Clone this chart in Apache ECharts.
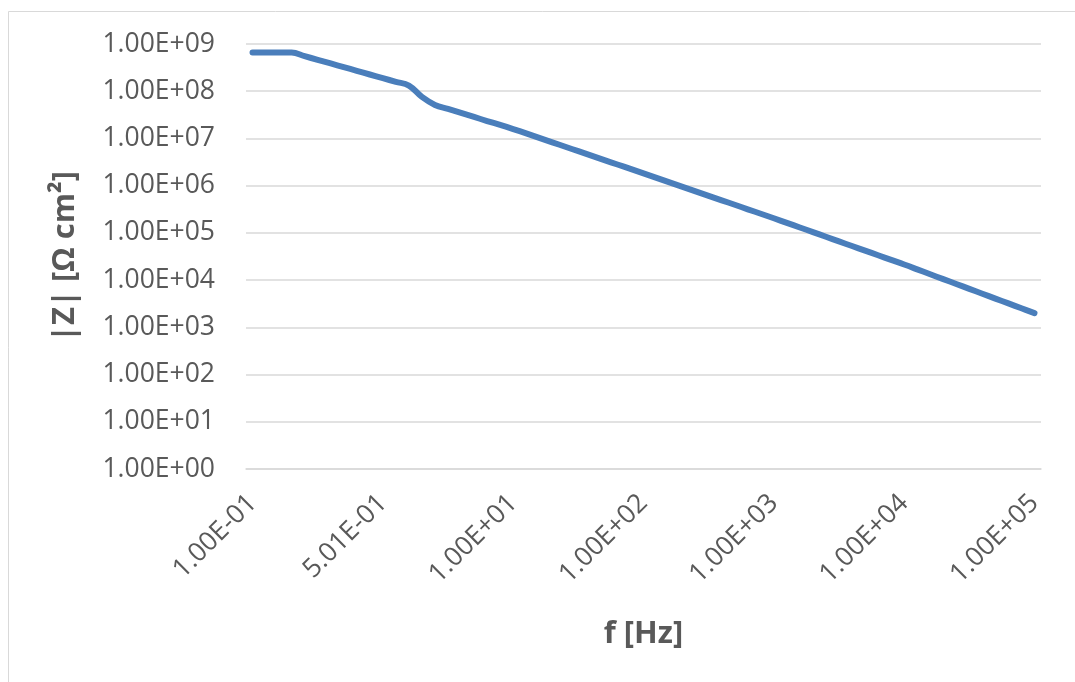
<!DOCTYPE html>
<html>
<head>
<meta charset="utf-8">
<script src="https://cdn.jsdelivr.net/npm/echarts@6/dist/echarts.min.js"></script>
<style>
html,body{margin:0;padding:0;background:#fff;}
#chart{width:1075px;height:682px;}
</style>
</head>
<body>
<div id="chart"></div>
<script>
// Frequencies [Hz] (category values)
const frequencies = [
  0.1, 0.118, 0.138, 0.162, 0.191, 0.224, 0.263, 0.309, 0.363, 0.427, 0.501,
  0.676, 0.912, 1.23, 1.66, 2.24, 3.02, 4.07, 5.50, 7.41, 10,
  12.6, 15.8, 20.0, 25.1, 31.6, 39.8, 50.1, 63.1, 79.4, 100,
  126, 158, 200, 251, 316, 398, 501, 631, 794, 1000,
  1260, 1580, 2000, 2510, 3160, 3980, 5010, 6310, 7940, 10000,
  12600, 15800, 20000, 25100, 31600, 39800, 50100, 63100, 79400, 100000
];
// |Z| [Ohm cm2]
const impedance = [
  6.6e8, 6.6e8, 6.6e8, 6.6e8, 5.53e8, 4.62e8, 3.87e8, 3.24e8, 2.71e8, 2.26e8, 1.89e8,
  1.58e8, 1.32e8, 7.6e7, 5.13e7, 4.22e7, 3.47e7, 2.85e7, 2.34e7, 1.93e7, 1.58e7,
  1.28e7, 1.03e7, 8.28e6, 6.67e6, 5.37e6, 4.33e6, 3.48e6, 2.81e6, 2.26e6, 1.82e6,
  1.46e6, 1.17e6, 9.44e5, 7.59e5, 6.10e5, 4.90e5, 3.94e5, 3.16e5, 2.54e5, 2.04e5,
  1.63e5, 1.30e5, 1.04e5, 8.28e4, 6.61e4, 5.27e4, 4.21e4, 3.36e4, 2.68e4, 2.14e4,
  1.69e4, 1.33e4, 1.05e4, 8.28e3, 6.53e3, 5.15e3, 4.06e3, 3.21e3, 2.53e3, 2.00e3
];
const yAxisMin = 1;
const yAxisMax = 1e9;
const xAxisTitle = 'f [Hz]';
const yAxisTitle = '|Z| [Ω cm²]';

function sci(v) {
  const s = Number(v).toExponential(2);
  const parts = s.split('e');
  const sign = parts[1][0] === '-' ? '-' : '+';
  let exp = parts[1].replace(/[+-]/, '');
  if (exp.length < 2) exp = '0' + exp;
  return parts[0] + 'E' + sign + exp;
}

const FONT = '"Open Sans", "Liberation Sans", sans-serif';
const chart = echarts.init(document.getElementById('chart'), null, {renderer: 'canvas'});
chart.setOption({
  backgroundColor: '#ffffff',
  animation: false,
  graphic: [{
    type: 'rect',
    shape: {x: 8.5, y: 11.5, width: 1200, height: 800},
    style: {fill: 'none', stroke: '#d9d9d9', lineWidth: 1},
    silent: true
  }],
  grid: {left: 246, right: 34, top: 44, bottom: 213, containLabel: false},
  xAxis: {
    type: 'category',
    boundaryGap: true,
    data: frequencies,
    name: xAxisTitle,
    nameLocation: 'middle',
    nameGap: 150,
    nameTextStyle: {fontFamily: FONT, fontSize: 31, fontWeight: 'bold', color: '#595959'},
    axisLine: {show: true, lineStyle: {color: '#d9d9d9', width: 1.5}},
    axisTick: {show: false},
    axisLabel: {
      interval: 9,
      rotate: 45,
      margin: 30,
      fontFamily: FONT,
      fontSize: 26.5,
      color: '#595959',
      formatter: function (v) { return sci(v); }
    },
    splitLine: {show: false}
  },
  yAxis: {
    type: 'log',
    logBase: 10,
    min: yAxisMin,
    max: yAxisMax,
    name: yAxisTitle,
    nameLocation: 'middle',
    nameGap: 165,
    nameTextStyle: {fontFamily: FONT, fontSize: 31, fontWeight: 'bold', color: '#595959'},
    axisLine: {show: false},
    axisTick: {show: false},
    axisLabel: {
      margin: 31,
      fontFamily: FONT,
      fontSize: 26.5,
      color: '#595959',
      formatter: function (v) { return sci(v); }
    },
    splitLine: {show: true, lineStyle: {color: '#d9d9d9', width: 1.5}}
  },
  series: [{
    type: 'line',
    data: impedance,
    smooth: 0.4,
    showSymbol: false,
    lineStyle: {color: '#4a7ebb', width: 6, cap: 'round', join: 'round'},
    itemStyle: {color: '#4a7ebb'}
  }]
});
</script>
</body>
</html>
